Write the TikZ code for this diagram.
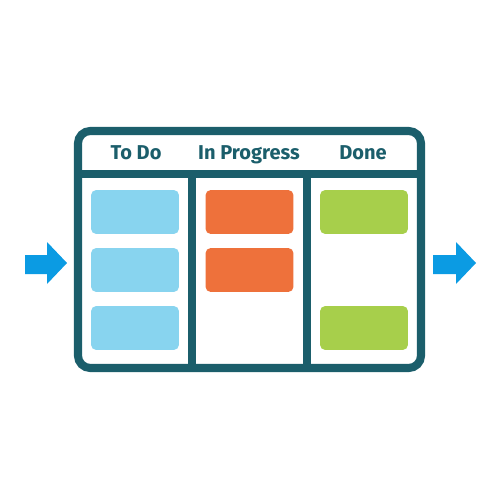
\documentclass[tikz,border=0pt]{standalone}
\usepackage{fontspec}
\setmainfont{Fira Sans}
\usepackage{tikz}
\usetikzlibrary{calc}

\definecolor{boardteal}{HTML}{1B5E6B}
\definecolor{cardblue}{HTML}{88D4EF}
\definecolor{cardorange}{HTML}{EE713B}
\definecolor{cardgreen}{HTML}{A7CF4B}
\definecolor{flowblue}{HTML}{0B9BE3}

\begin{document}
\begin{tikzpicture}[x=0.02cm,y=-0.02cm,
        board/.style={draw=boardteal,line width=4.6pt},
        card/.style={rounded corners=3pt,inner sep=0pt,minimum width=1.76cm,minimum height=0.88cm},
        coltitle/.style={anchor=base,text=boardteal,font=\bfseries\fontsize{11.4}{13}\selectfont},
        flow/.style={fill=flowblue}]
        \useasboundingbox (0,0) rectangle (500,500);

        % board frame
        \draw[board,rounded corners=7pt,fill=white] (78,131) rectangle (421,368);
        \draw[board] (78,174) -- (421,174);
        \draw[board] (192,174) -- (192,368);
        \draw[board] (307,174) -- (307,368);

        % column titles
        \node[coltitle] (todo) at (136,159.5){To Do};
        \node[coltitle] (doing) at (249,159.5){In Progress};
        \node[coltitle] (done) at (363,159.5){Done};

        % cards
        \node[card,fill=cardblue] (blueA) at (135,212){};
        \node[card,fill=cardblue] (blueB) at (135,270){};
        \node[card,fill=cardblue] (blueC) at (135,328){};
        \node[card,fill=cardorange] (orangeA) at (249.5,212){};
        \node[card,fill=cardorange] (orangeB) at (249.5,270){};
        \node[card,fill=cardgreen] (greenA) at (364,212){};
        \node[card,fill=cardgreen] (greenC) at (364,328){};

        % in and out arrows
        \fill[flow] (25,255) -- (47,255) -- (47,242) -- (67,263) -- (47,284)
            -- (47,274) -- (25,274) -- cycle;
        \begin{scope}[shift={(408,0)}]
            \fill[flow] (25,255) -- (48,255) -- (48,242) -- (68,263) -- (48,284)
                -- (48,274) -- (25,274) -- cycle;
        \end{scope}
    \end{tikzpicture}
\end{document}
